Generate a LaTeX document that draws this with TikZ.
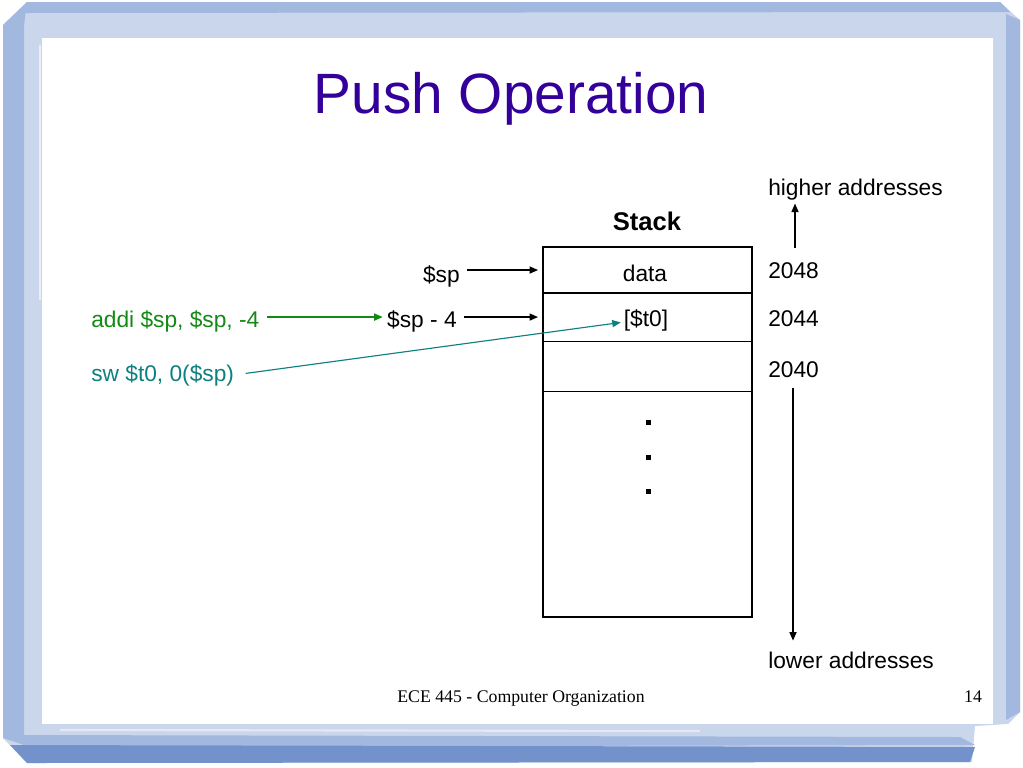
\documentclass[tikz,border=0pt]{standalone}
\usepackage{fontspec}
\setmainfont{Liberation Sans}
\newfontfamily\footfont{Liberation Serif}
\usetikzlibrary{positioning,arrows.meta}
\definecolor{titleblue}{HTML}{330099}
\definecolor{codegreen}{HTML}{148A14}
\definecolor{codeteal}{HTML}{0E8080}
\definecolor{frameA}{HTML}{CAD6EC}
\definecolor{frameB}{HTML}{A3B8DF}
\definecolor{frameC}{HTML}{7392CC}

\tikzset{
  txt/.style={font=\fontsize{16}{19}\selectfont, inner sep=0pt},
  cell/.style={draw, line width=0.8pt, minimum width=147.1pt, inner sep=0pt, outer sep=0pt, anchor=north},
  ptr/.style={-{Triangle[length=6pt,width=5pt]}, line width=0.9pt},
}

\begin{document}
\begin{tikzpicture}[x=0.7038pt,y=-0.7038pt]
\useasboundingbox (0,0) rectangle (1023,767);
% frame
\fill[frameA] (3,25) -- (27,2) -- (1000,2) -- (1020,20) -- (1020,712) -- (1008,724)
  -- (975,726) -- (972,762) -- (27,763) -- (3,738) -- cycle;
\fill[white] (42,38) rectangle (993,724);
\fill[frameB] (3,25) -- (27,2) -- (24,26) -- (24,745) -- (3,738) -- cycle;
\fill[frameB] (27,2) -- (1000,2) -- (1010,12) -- (24,13) -- cycle;
\fill[frameB] (1006,14) -- (1020,20) -- (1020,712) -- (1006,720) -- cycle;
\fill[frameB] (24,735) -- (960,737) -- (975,745) -- (24,747) -- cycle;
\fill[frameC] (10,745) -- (975,747) -- (970,762) -- (27,763) -- cycle;
\draw[white, opacity=.6, line width=1.2pt] (40,45) -- (40,300);
\draw[white, opacity=.5, line width=1.5pt] (60,730) -- (700,731);
% title
\node[font=\fontsize{40}{48}\selectfont, text=titleblue, anchor=base] (title) at (511,113) {Push Operation};
% stack
\node[font=\bfseries\fontsize{18}{22}\selectfont, anchor=base] (stacklbl) at (647,230) {Stack};
\node[cell, minimum height=32.4pt] (row1) at (647.5,247) {};
\node[cell, minimum height=33.8pt, below=0pt of row1] (row2) {};
\node[cell, minimum height=35.2pt, below=0pt of row2] (row3) {};
\node[cell, minimum height=159.1pt, below=0pt of row3] (rest) {};
\draw[line width=1.2pt] (row1.north west) rectangle (rest.south east);
\node[txt, anchor=base] (data) at (645,281) {data};
\node[txt, anchor=base] (t0) at (646,326) {[\$t0]};
\foreach \y in {422,457,491}
  \fill (645.5,\y-2.5) rectangle ++(5,5);
% pointers
\node[txt, anchor=base east] (sp) at (460,282) {\$sp};
\node[txt, anchor=base east] (spfour) at (457,327) {\$sp - 4};
\node[txt, anchor=base west, text=codegreen] (addi) at (91,327) {addi \$sp, \$sp, -4};
\node[txt, anchor=base west, text=codeteal] (sw) at (91,381) {sw \$t0, 0(\$sp)};
\draw[ptr, shorten <=5pt, shorten >=3.5pt] (sp.east |- row1.west) -- (row1.west);
\draw[ptr, shorten <=5pt, shorten >=3.5pt] (spfour.east |- row2.west) -- (row2.west);
\draw[ptr, codegreen, shorten <=5pt, shorten >=3pt] (addi.east |- row2.west) -- (spfour.west |- row2.west);
\draw[ptr, codeteal, line width=0.8pt, shorten <=8pt, shorten >=2pt] (sw.east) -- ([yshift=-1.5pt]t0.west);
% addresses
\node[txt, anchor=base west] (a2048) at (768,278) {2048};
\node[txt, anchor=base west] (a2044) at (768,326) {2044};
\node[txt, anchor=base west] (a2040) at (768,377) {2040};
\node[txt, anchor=base west] (higher) at (768,195) {higher addresses};
\node[txt, anchor=base west] (lower) at (768,668) {lower addresses};
\coordinate (upfoot) at (795,248);
\coordinate (downfoot) at (793,388);
\draw[ptr, shorten >=2.5pt] (upfoot) -- (upfoot |- higher.south);
\draw[ptr, shorten >=7.5pt] (downfoot) -- (downfoot |- lower.north);
% footer
\node[font=\footfont\fontsize{12.5}{15}\selectfont, anchor=base] (foot) at (521,702) {ECE 445 - Computer Organization};
\node[font=\footfont\fontsize{12.5}{15}\selectfont, anchor=base] (page) at (973,702) {14};
\end{tikzpicture}
\end{document}
